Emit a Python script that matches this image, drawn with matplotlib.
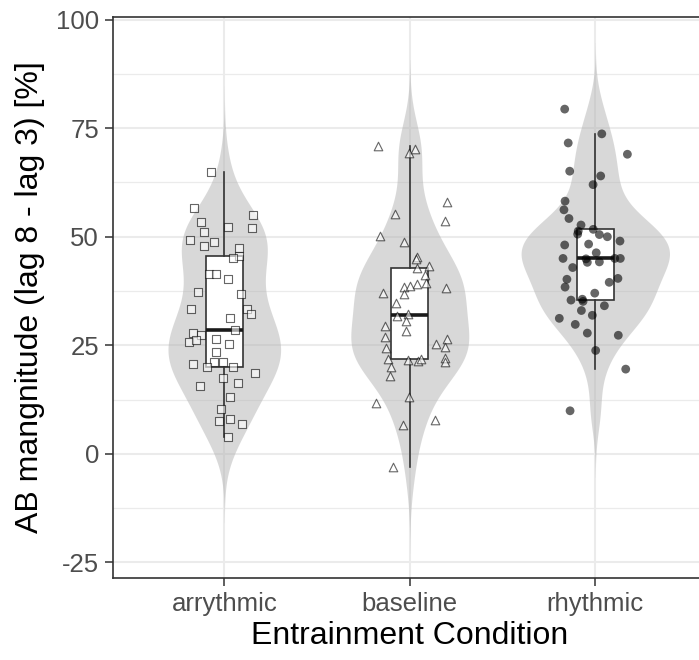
import matplotlib
matplotlib.use("Agg")
import matplotlib.pyplot as plt
import numpy as np

plt.rcParams['font.family'] = ['Liberation Sans', 'DejaVu Sans']

# categories and values
conditions = ["arrythmic", "baseline", "rhythmic"]

arrythmic = [65.0, 56.7, 55.0, 53.4, 52.3, 51.1, 51.9, 49.3, 47.9, 48.7, 47.5, 45.6,
             45.0, 41.5, 41.3, 40.2, 37.2, 36.9, 33.4, 33.4, 32.3, 31.3, 28.5, 27.9,
             27.3, 25.8, 26.2, 26.4, 25.4, 23.4, 20.6, 21.1, 21.1, 20.0, 20.0, 18.7,
             17.5, 15.5, 16.2, 13.1, 10.4, 7.6, 7.9, 6.9, 3.9]
arrythmic_jitter = [-0.072, -0.162, 0.156, -0.124, 0.022, -0.111, 0.148, -0.187, -0.111,
                    -0.057, 0.079, 0.078, 0.047, -0.084, -0.046, 0.020, -0.140, 0.088,
                    -0.180, 0.121, 0.146, 0.031, 0.056, -0.170, -0.126, -0.192, -0.151,
                    -0.043, 0.024, -0.043, -0.170, -0.057, -0.009, -0.092, 0.047, 0.165,
                    -0.007, -0.133, 0.074, 0.032, -0.019, -0.029, 0.032, 0.097, 0.022]

baseline = [70.9, 69.2, 70.1, 57.9, 53.7, 55.2, 50.2, 48.7, 45.4, 44.8, 43.3, 42.7,
            41.1, 39.4, 39.1, 38.5, 38.6, 38.2, 37.0, 36.7, 34.8, 31.7, 32.2, 30.7,
            29.4, 28.2, 26.9, 25.3, 26.4, 24.7, 24.4, 22.0, 21.1, 21.8, 21.6, 21.4,
            21.8, 20.1, 18.0, 13.1, 11.8, 7.8, 6.6, -3.0]
baseline_jitter = [-0.170, -0.003, 0.027, 0.198, 0.192, -0.082, -0.163, -0.030, 0.038,
                   0.031, 0.105, 0.038, 0.081, 0.086, 0.040, -0.029, 0.000, 0.194,
                   -0.147, -0.029, -0.072, -0.068, -0.012, -0.018, -0.135, -0.018,
                   -0.133, 0.139, 0.198, 0.191, -0.127, 0.192, 0.192, -0.120, -0.009,
                   0.042, 0.058, -0.100, -0.109, -0.005, -0.180, 0.137, -0.034, -0.092]

rhythmic = [79.4, 73.7, 71.6, 69.0, 65.1, 64.0, 62.0, 58.2, 56.2, 54.2, 52.7, 50.6,
            51.3, 51.7, 50.5, 50.0, 49.0, 48.1, 48.3, 46.3, 45.0, 44.9, 44.1, 44.2,
            45.0, 45.0, 42.9, 40.4, 40.2, 38.4, 39.5, 37.0, 35.4, 35.6, 35.1, 34.1,
            33.0, 31.2, 31.9, 29.8, 27.8, 27.3, 23.8, 19.5, 9.9]
rhythmic_jitter = [-0.165, 0.035, -0.146, 0.173, -0.138, 0.029, -0.012, -0.163, -0.169,
                   -0.142, -0.077, -0.095, -0.092, -0.011, 0.022, 0.065, 0.133, -0.165,
                   -0.036, 0.005, -0.174, -0.050, -0.043, 0.022, 0.105, 0.135, -0.122,
                   0.122, -0.153, -0.163, 0.075, -0.003, -0.131, -0.070, -0.066, 0.049,
                   -0.075, -0.194, -0.016, -0.108, -0.043, 0.124, 0.002, 0.164, -0.136]

groups = [np.array(arrythmic), np.array(baseline), np.array(rhythmic)]
jitters = [np.array(arrythmic_jitter), np.array(baseline_jitter), np.array(rhythmic_jitter)]
positions = np.arange(1, len(conditions) + 1)


def kde_untrimmed(values, n=512, cut=3):
    # gaussian density with R's bw.nrd0, extended 3 bandwidths past the data
    sd = values.std(ddof=1)
    iqr = np.subtract(*np.percentile(values, [75, 25]))
    bw = 0.9 * min(sd, iqr / 1.34) * len(values) ** -0.2
    grid = np.linspace(values.min() - cut * bw, values.max() + cut * bw, n)
    dens = np.exp(-0.5 * ((grid[:, None] - values[None, :]) / bw) ** 2).sum(axis=1)
    dens /= len(values) * bw * np.sqrt(2 * np.pi)
    return grid, dens


fig = plt.figure(figsize=(6.99, 6.6), dpi=100)
ax = fig.add_axes([113 / 699, 82.3 / 660, 593.6 / 699, 560.4 / 660])

# violins, area-scaled like ggplot
kdes = [kde_untrimmed(g) for g in groups]
dmax = max(d.max() for _, d in kdes)
violin_width = 0.8
for pos, (grid, dens) in zip(positions, kdes):
    half = dens / dmax * violin_width / 2
    ax.fill_betweenx(grid, pos - half, pos + half, color='#b3b3b3', alpha=0.5,
                     linewidth=0, zorder=2)

bp = ax.boxplot(groups, positions=positions, widths=0.2, patch_artist=True,
                showfliers=False, showcaps=False, manage_ticks=False, zorder=3,
                boxprops=dict(facecolor='white', edgecolor='#333333', linewidth=1.2),
                whiskerprops=dict(color='#333333', linewidth=1.2),
                medianprops=dict(color='#1a1a1a', linewidth=2.6))

markers = ['s', '^', 'o']
for pos, g, jit, m in zip(positions, groups, jitters, markers):
    if m == 'o':
        ax.scatter(pos + jit, g, s=40, marker=m, facecolor='black', edgecolor='none',
                   alpha=0.6, zorder=4)
    else:
        ax.scatter(pos + jit, g, s=32 if m == 's' else 38, marker=m, facecolor='white',
                   edgecolor='black', linewidth=0.8, alpha=0.6, zorder=4)

ax.set_xlim(0.4, 3.6)
ax.set_ylim(-28.55, 100.55)
ax.set_xticks(positions)
ax.set_xticklabels(conditions)
ax.set_yticks([-25, 0, 25, 50, 75, 100])
ax.set_yticklabels(['-25', '0', '25', '50', '75', '100'])
ax.set_yticks([-12.5, 12.5, 37.5, 62.5, 87.5], minor=True)
ax.set_xlabel("Entrainment Condition", fontsize=23, labelpad=4)
ax.set_ylabel("AB mangnitude (lag 8 - lag 3) [%]", fontsize=23, labelpad=8)

ax.set_axisbelow(True)
ax.grid(True, which='major', color='#ebebeb', linewidth=1.5)
ax.grid(True, which='minor', axis='y', color='#ebebeb', linewidth=0.9)
ax.tick_params(axis='both', which='major', labelsize=18.5, colors='#333333',
               labelcolor='#4d4d4d', length=6, width=1.1, pad=4)
ax.tick_params(axis='y', which='minor', length=0)
for s in ax.spines.values():
    s.set_color('#333333')
    s.set_linewidth(1.2)

fig.savefig("out.png", dpi=100)
